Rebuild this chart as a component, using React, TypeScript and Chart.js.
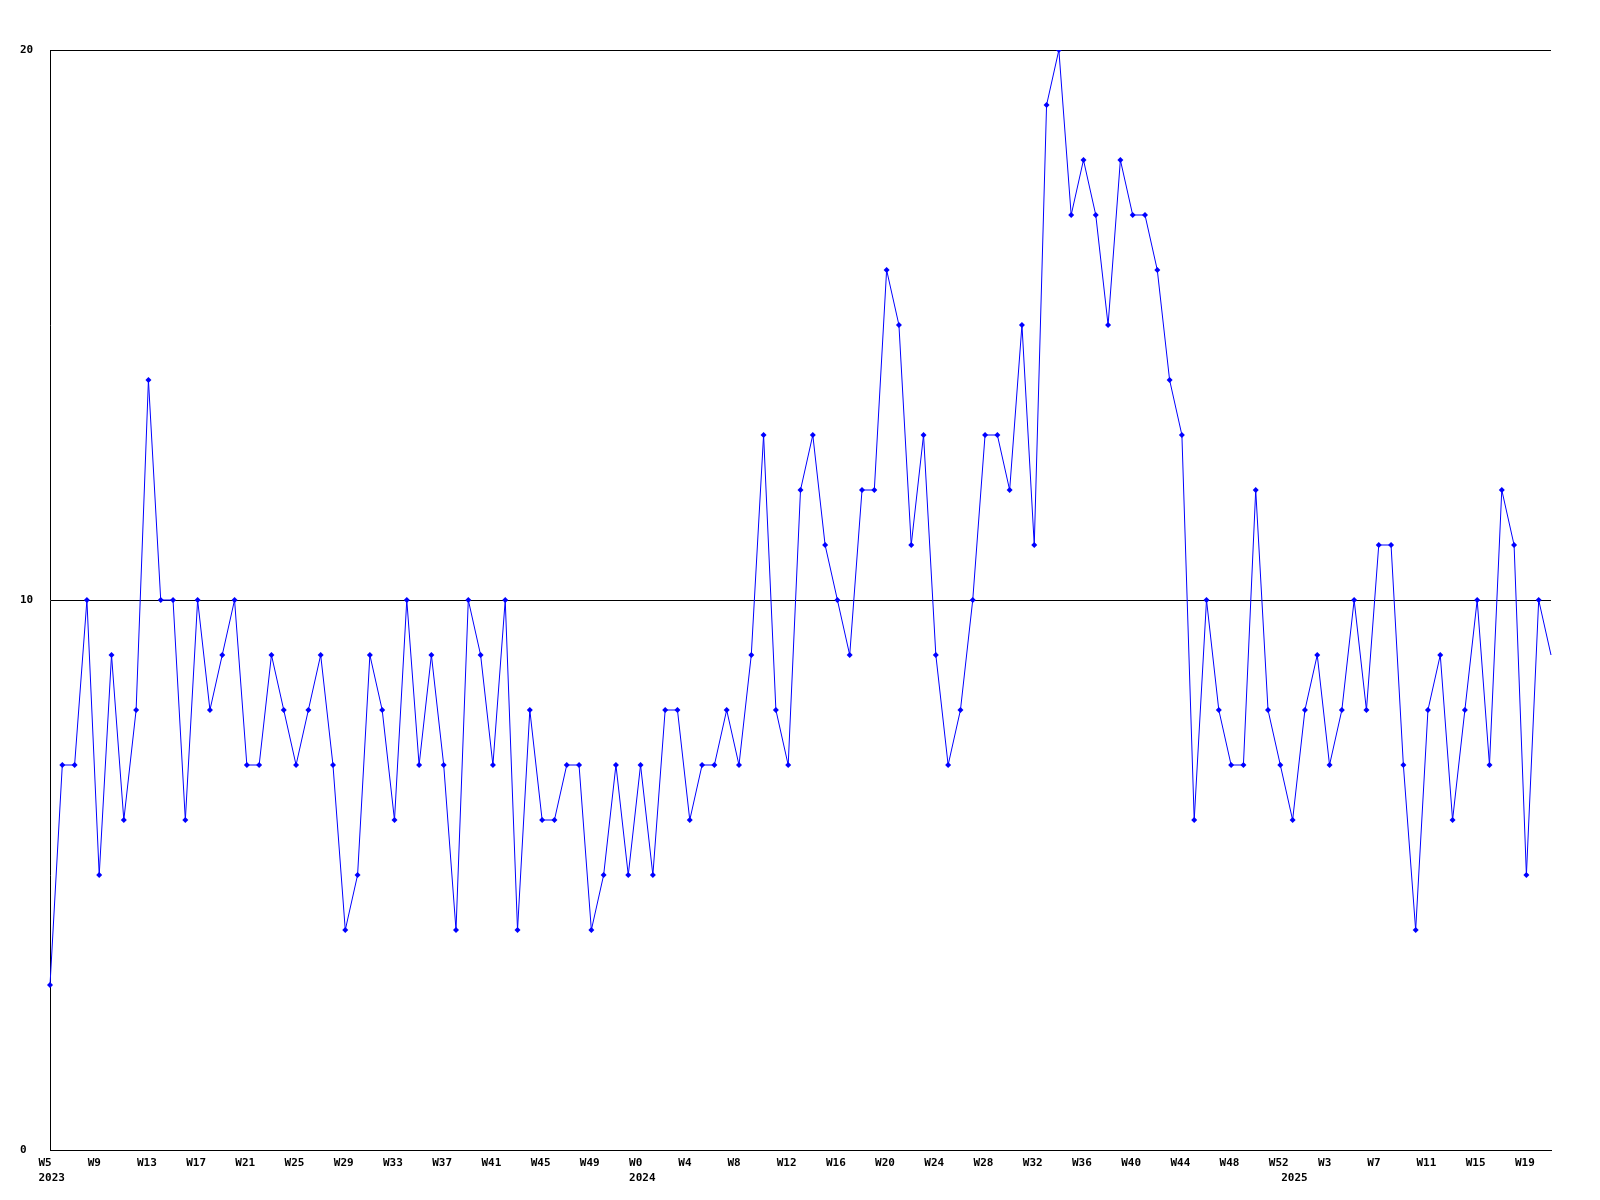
import React, { useEffect, useRef } from "react";
import { Chart, registerables } from "chart.js";

Chart.register(...registerables);

// Week ranges shown on the x axis: [year, first week, last week]
const YEAR_RANGES: [number, number, number][] = [
  [2023, 5, 52],
  [2024, 0, 52],
  [2025, 0, 21],
];

// Weekly values per year
const VALUES_2023 = [
  3, 7, 7, 10, 5, 9, 6, 8, 14, 10,
  10, 6, 10, 8, 9, 10, 7, 7, 9, 8,
  7, 8, 9, 7, 4, 5, 9, 8, 6, 10,
  7, 9, 7, 4, 10, 9, 7, 10, 4, 8,
  6, 6, 7, 7, 4, 5, 7, 5,
];
const VALUES_2024 = [
  7, 5, 8, 8, 6, 7, 7, 8, 7, 9,
  13, 8, 7, 12, 13, 11, 10, 9, 12, 12,
  16, 15, 11, 13, 9, 7, 8, 10, 13, 13,
  12, 15, 11, 19, 20, 17, 18, 17, 15, 18,
  17, 17, 16, 14, 13, 6, 10, 8, 7, 7,
  12, 8, 7,
];
const VALUES_2025 = [
  6, 8, 9, 7, 8, 10, 8, 11, 11, 7,
  4, 8, 9, 6, 8, 10, 7, 12, 11, 5,
  10, 9,
];

const Y_TICKS = [0, 10, 20];
const WEEK_LABEL_EVERY = 4;

const CATEGORY_YEARS: number[] = [];
const CATEGORY_WEEKS: number[] = [];
YEAR_RANGES.forEach(([y, a, b]) => {
  for (let w = a; w <= b; w++) {
    CATEGORY_YEARS.push(y);
    CATEGORY_WEEKS.push(w);
  }
});
const CATEGORIES = CATEGORY_WEEKS.map((w, i) => `${CATEGORY_YEARS[i]}-W${w}`);
const VALUES = [...VALUES_2023, ...VALUES_2024, ...VALUES_2025];

const FONT = { family: "'DejaVu Sans Mono', 'Liberation Mono', monospace", size: 11, weight: "bold" as const };

function tickLabel(i: number): string | string[] {
  const showWeek = i % WEEK_LABEL_EVERY === 0;
  const yearStart = i === 0 || CATEGORY_YEARS[i] !== CATEGORY_YEARS[i - 1];
  if (!showWeek && !yearStart) return "";
  const lines = [showWeek ? `W${CATEGORY_WEEKS[i]}` : ""];
  if (yearStart) lines.push(String(CATEGORY_YEARS[i]));
  return lines;
}

export default function App() {
  const ref = useRef<HTMLCanvasElement | null>(null);

  useEffect(() => {
    if (!ref.current) return;
    const last = VALUES.length - 1;
    const chart = new Chart(ref.current, {
      type: "line",
      data: {
        labels: CATEGORIES,
        datasets: [
          {
            data: VALUES,
            borderColor: "#0000ff",
            backgroundColor: "#0000ff",
            borderWidth: 1,
            tension: 0,
            fill: false,
            pointStyle: "rectRot",
            pointRadius: (c: any) => (c.dataIndex === last ? 0 : 3),
            pointBorderWidth: 0,
            pointBackgroundColor: "#0000ff",
            pointHoverRadius: 3,
          },
        ],
      },
      options: {
        responsive: false,
        animation: false,
        devicePixelRatio: 1,
        layout: { padding: { left: 20, top: 50, right: 49, bottom: 0 } },
        plugins: {
          legend: { display: false },
          tooltip: { enabled: false },
          title: { display: false },
        },
        scales: {
          x: {
            type: "category",
            offset: false,
            grid: { display: false, drawTicks: false },
            border: { display: true, color: "#000000", width: 1 },
            ticks: {
              autoSkip: false,
              maxRotation: 0,
              minRotation: 0,
              align: "start",
              labelOffset: -11.5,
              padding: 5,
              color: "#000000",
              font: { ...FONT, lineHeight: "15.5px" },
              callback: (_v: any, i: number) => tickLabel(i),
            },
            afterFit: (s: any) => {
              s.height = 50;
            },
          },
          y: {
            min: Y_TICKS[0],
            max: Y_TICKS[Y_TICKS.length - 1],
            grid: { display: true, color: "#000000", lineWidth: 1, drawTicks: false },
            border: { display: true, color: "#000000", width: 1 },
            afterBuildTicks: (s: any) => {
              s.ticks = Y_TICKS.map((v) => ({ value: v }));
            },
            ticks: {
              crossAlign: "far",
              padding: 0,
              color: "#000000",
              font: FONT,
              callback: (v: any) => String(v),
            },
            afterFit: (s: any) => {
              s.width = 30;
            },
          },
        },
      } as any,
    });
    return () => chart.destroy();
  }, []);

  return (
    <div style={{ position: "absolute", left: 0, top: 0, width: 1600, height: 1200, background: "#ffffff" }}>
      <canvas ref={ref} width={1600} height={1200} style={{ display: "block" }} />
    </div>
  );
}
